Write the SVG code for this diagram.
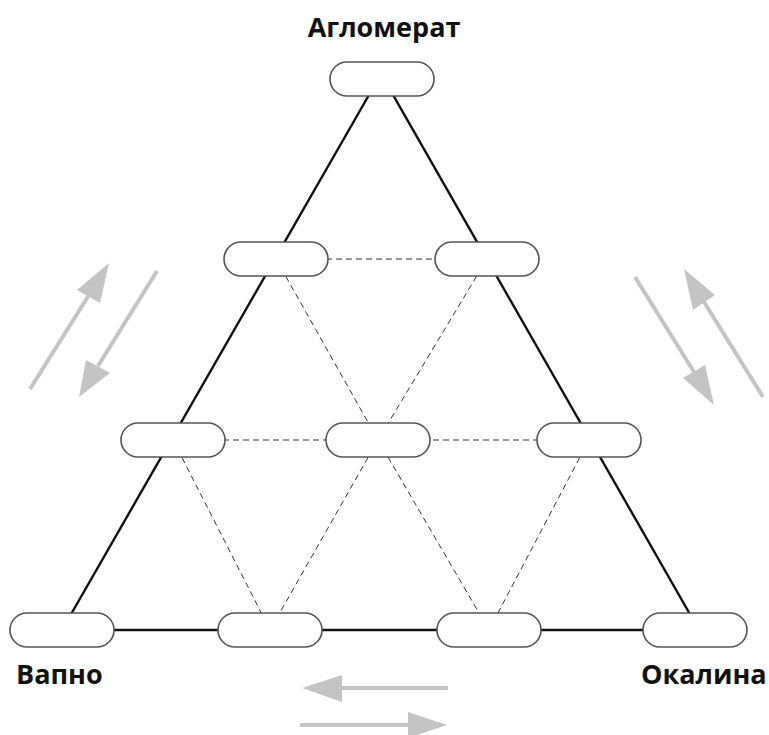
<svg xmlns="http://www.w3.org/2000/svg" width="769" height="735" viewBox="0 0 769 735">
<style>
.node{fill:#fff;stroke:#555;stroke-width:1.6}
.solid{stroke:#111;stroke-width:2.4;fill:none}
.dash{stroke:#333;stroke-width:1;stroke-dasharray:6,4;fill:none}
.garrow{stroke:#c4c4c4;stroke-width:4;fill:none}
.ghead{fill:#c4c4c4}
.lbl{font-family:"Open Sans","Liberation Sans",sans-serif;font-weight:bold;font-size:27px;fill:#111}
</style>
<rect width="769" height="735" fill="#fff"/>
<g id="connectors">
<path class="solid" d="M381,74 L62,630 L699,630 Z"/>
<line class="dash" x1="276" y1="259" x2="487" y2="259"/>
<line class="dash" x1="173" y1="440" x2="589" y2="440"/>
<line class="dash" x1="276" y1="259" x2="378" y2="440"/>
<line class="dash" x1="487" y1="259" x2="378" y2="440"/>
<line class="dash" x1="173" y1="440" x2="270" y2="630"/>
<line class="dash" x1="378" y1="440" x2="270" y2="630"/>
<line class="dash" x1="378" y1="440" x2="489" y2="630"/>
<line class="dash" x1="589" y1="440" x2="489" y2="630"/>
</g>
<g id="n-top"><rect class="node" x="330" y="62" width="104" height="34" rx="17"/></g>
<g id="n-r2-left"><rect class="node" x="224" y="242" width="104" height="34" rx="17"/></g>
<g id="n-r2-right"><rect class="node" x="435" y="242" width="104" height="34" rx="17"/></g>
<g id="n-r3-left"><rect class="node" x="121" y="423" width="104" height="34" rx="17"/></g>
<g id="n-r3-mid"><rect class="node" x="326" y="423" width="104" height="34" rx="17"/></g>
<g id="n-r3-right"><rect class="node" x="537" y="423" width="104" height="34" rx="17"/></g>
<g id="n-b1"><rect class="node" x="10" y="613" width="104" height="34" rx="17"/></g>
<g id="n-b2"><rect class="node" x="218" y="613" width="104" height="34" rx="17"/></g>
<g id="n-b3"><rect class="node" x="437" y="613" width="104" height="34" rx="17"/></g>
<g id="n-b4"><rect class="node" x="643" y="613" width="104" height="34" rx="17"/></g>
<g id="labels">
<text class="lbl" x="384" y="37" text-anchor="middle">Агломерат</text>
<text class="lbl" x="16" y="684">Вапно</text>
<text class="lbl" x="641" y="684">Окалина</text>
</g>
<g id="gray-arrows">
<line class="garrow" x1="30" y1="389" x2="89" y2="295"/>
<polygon class="ghead" points="109,263 77,290 100,303"/>
<line class="garrow" x1="157" y1="271" x2="98" y2="366"/>
<polygon class="ghead" points="79,397 86,360 110,373"/>
<line class="garrow" x1="635" y1="277" x2="694" y2="372"/>
<polygon class="ghead" points="714,405 683,378 705,365"/>
<line class="garrow" x1="763" y1="397" x2="704" y2="302"/>
<polygon class="ghead" points="684,269 693,310 715,295"/>
<line class="garrow" x1="448" y1="688" x2="340" y2="688"/>
<polygon class="ghead" points="302,688 342,675 342,702"/>
<line class="garrow" x1="300" y1="725" x2="410" y2="725"/>
<polygon class="ghead" points="447,725 408,712 408,738"/>
</g>
</svg>
